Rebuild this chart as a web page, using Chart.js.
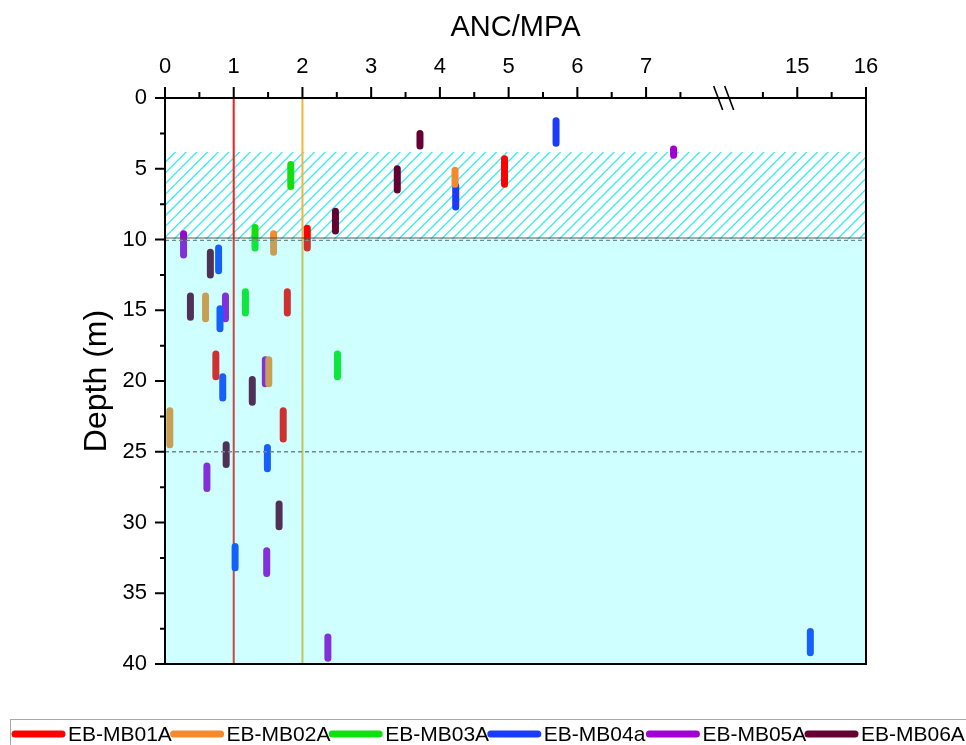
<!DOCTYPE html>
<html>
<head>
<meta charset="utf-8">
<title>ANC/MPA vs depth</title>
<script src="https://cdn.jsdelivr.net/npm/chart.js@4.4.0/dist/chart.umd.min.js"></script>
<style>
  html, body { margin: 0; padding: 0; background: #fff; }
</style>
</head>
<body>
<canvas id="ancChart" width="966" height="745"></canvas>
<script>
// wells and their colours
const wells = ['EB-MB01A', 'EB-MB02A', 'EB-MB03A', 'EB-MB04a', 'EB-MB05A', 'EB-MB06A'];
const wellColors = ['#ff0000', '#f5892d', '#10e010', '#1a3cfa', '#a000d2', '#640032'];

// samples per well: [ANC/MPA, top depth (m), bottom depth (m)]
const mb01 = [[4.94, 4.3, 6.1], [2.07, 9.2, 10.6], [1.78, 13.7, 15.2], [0.74, 18.1, 19.7], [1.72, 22.1, 24.1]];
const mb02 = [[4.22, 5.1, 6.1], [1.58, 9.6, 10.9], [0.59, 14.0, 15.6], [1.51, 18.5, 20.2], [0.07, 22.1, 24.5]];
const mb03 = [[1.83, 4.7, 6.25], [1.31, 9.15, 10.6], [1.17, 13.7, 15.2], [2.51, 18.1, 19.7]];
const mb04 = [[5.69, 1.6, 3.2], [4.23, 6.2, 7.7], [0.78, 10.6, 12.2], [0.80, 14.9, 16.3], [0.84, 19.7, 21.2],
              [1.49, 24.7, 26.2], [1.02, 31.7, 33.2], [15.19, 37.7, 39.2]];
const mb05 = [[7.40, 3.6, 4.05], [0.27, 9.6, 11.1], [0.88, 14.0, 15.6], [1.46, 18.5, 20.2], [0.61, 26.0, 27.6],
              [1.48, 32.0, 33.6], [2.37, 38.1, 39.6]];
const mb06 = [[3.71, 2.5, 3.4], [3.38, 5.0, 6.5], [2.48, 8.0, 9.4], [0.66, 10.9, 12.5], [0.37, 14.0, 15.5],
              [1.27, 19.9, 21.5], [0.89, 24.5, 25.9], [1.66, 28.7, 30.3]];
const wellSamples = [mb01, mb02, mb03, mb04, mb05, mb06];

// axis ticks
const xTicks = [0, 1, 2, 3, 4, 5, 6, 7, 15, 16];
const xMinorTicks = [0.5, 1.5, 2.5, 3.5, 4.5, 5.5, 6.5, 7.5, 14.5, 15.5];
const yTicks = [0, 5, 10, 15, 20, 25, 30, 35, 40];

// reference lines (ANC/MPA = 1 and 2) and depth zones
const refLines = [1, 2];
const refColors = ['#ff1a1a', '#f4b43a'];
const hatchZone = [3.8, 10];
const shadedZone = [10, 40];
const dashedDepths = [10, 25];

// broken x axis: values above the break are shifted left
const BREAK_AT = 8.1, BREAK_SHIFT = 5.8;
const tx = v => (v > BREAK_AT ? v - BREAK_SHIFT : v);

const datasets = wells.map((name, i) => {
    const pts = [];
    wellSamples[i].forEach(([r, top, bot]) => {
        pts.push({ x: tx(r), y: top }, { x: tx(r), y: bot }, { x: null, y: null });
    });
    return {
        label: name,
        data: pts,
        showLine: true,
        spanGaps: false,
        borderColor: wellColors[i],
        backgroundColor: wellColors[i],
        borderWidth: 7,
        borderCapStyle: 'round',
        pointRadius: 0,
        pointHoverRadius: 0
    };
});

const FONT = "'Liberation Sans', Arial, sans-serif";
Chart.defaults.font.family = FONT;
Chart.defaults.color = '#000';

const decor = {
    id: 'decor',
    beforeDatasetsDraw(chart) {
        const { ctx, chartArea: a, scales: { x, y } } = chart;
        // hatched zone
        const yt = y.getPixelForValue(hatchZone[0]), yb = y.getPixelForValue(hatchZone[1]);
        ctx.save();
        ctx.beginPath();
        ctx.rect(a.left, yt, a.right - a.left, yb - yt);
        ctx.clip();
        ctx.strokeStyle = '#38eef2';
        ctx.lineWidth = 1.3;
        const h = yb - yt;
        ctx.beginPath();
        for (let d = -h; d < a.right - a.left + h; d += 10.7) {
            ctx.moveTo(a.left + d, yb);
            ctx.lineTo(a.left + d + h, yt);
        }
        ctx.stroke();
        ctx.restore();
        // ANC/MPA reference lines
        ctx.save();
        refLines.forEach((v, i) => {
            const px = x.getPixelForValue(tx(v));
            ctx.strokeStyle = refColors[i];
            ctx.lineWidth = 2;
            ctx.beginPath();
            ctx.moveTo(px, a.top);
            ctx.lineTo(px, a.bottom);
            ctx.stroke();
        });
        ctx.restore();
    },
    afterDatasetsDraw(chart) {
        const { ctx, chartArea: a, scales: { x, y } } = chart;
        ctx.save();
        // shaded zone below 10 m (semi transparent over the marks)
        const s0 = y.getPixelForValue(shadedZone[0]), s1 = y.getPixelForValue(shadedZone[1]);
        ctx.fillStyle = 'rgba(0,255,255,0.19)';
        ctx.fillRect(a.left, s0, a.right - a.left, s1 - s0);

        // hatch zone lower boundary
        ctx.strokeStyle = '#4a5555';
        ctx.lineWidth = 1;
        ctx.beginPath();
        ctx.moveTo(a.left, y.getPixelForValue(hatchZone[1]) - 1.5);
        ctx.lineTo(a.right, y.getPixelForValue(hatchZone[1]) - 1.5);
        ctx.stroke();

        // dashed depth lines
        ctx.strokeStyle = '#6f8c8c';
        ctx.lineWidth = 1.3;
        ctx.setLineDash([4, 3]);
        dashedDepths.forEach(d => {
            const py = y.getPixelForValue(d) + (d === hatchZone[1] ? 0.8 : 0);
            ctx.beginPath();
            ctx.moveTo(a.left, py);
            ctx.lineTo(a.right, py);
            ctx.stroke();
        });
        ctx.setLineDash([]);

        // frame
        ctx.strokeStyle = '#000';
        ctx.lineWidth = 2;
        ctx.strokeRect(a.left, a.top, a.right - a.left, a.bottom - a.top);

        // x ticks (top, outward)
        ctx.beginPath();
        xTicks.forEach(v => {
            const px = x.getPixelForValue(tx(v));
            ctx.moveTo(px, a.top); ctx.lineTo(px, a.top - 11);
        });
        xMinorTicks.forEach(v => {
            const px = x.getPixelForValue(tx(v));
            ctx.moveTo(px, a.top); ctx.lineTo(px, a.top - 6);
        });
        // y ticks (left, outward)
        yTicks.forEach(v => {
            const py = y.getPixelForValue(v);
            ctx.moveTo(a.left, py); ctx.lineTo(a.left - 10, py);
        });
        yTicks.slice(0, -1).forEach(v => {
            const py = y.getPixelForValue(v + 2.5);
            ctx.moveTo(a.left, py); ctx.lineTo(a.left - 5, py);
        });
        ctx.stroke();

        // axis break marks
        const bx = x.getPixelForValue(BREAK_AT);
        ctx.lineWidth = 1.6;
        ctx.beginPath();
        ctx.moveTo(bx - 8, a.top - 12); ctx.lineTo(bx + 1, a.top + 12);
        ctx.moveTo(bx + 3, a.top - 12); ctx.lineTo(bx + 12, a.top + 12);
        ctx.stroke();
        ctx.restore();
    },
    afterDraw(chart) {
        const { ctx } = chart;
        ctx.save();
        // legend box
        ctx.strokeStyle = '#a8a8a8';
        ctx.lineWidth = 1;
        ctx.strokeRect(10.5, 719.5, 980, 40);
        ctx.font = '21px ' + FONT;
        ctx.textBaseline = 'middle';
        ctx.fillStyle = '#000';
        const ly = 734;
        wells.forEach((name, i) => {
            const x0 = 12 + i * 158.6;
            ctx.strokeStyle = wellColors[i];
            ctx.lineWidth = 7;
            ctx.lineCap = 'round';
            ctx.beginPath();
            ctx.moveTo(x0 + 3, ly);
            ctx.lineTo(x0 + 50, ly);
            ctx.stroke();
            ctx.fillText(name, x0 + 56, ly + 1);
        });
        ctx.restore();
    }
};

new Chart(document.getElementById('ancChart'), {
    type: 'scatter',
    data: { datasets },
    options: {
        responsive: false,
        animation: false,
        events: [],
        layout: { padding: { top: 0, left: 0, right: 100, bottom: 81 } },
        plugins: { legend: { display: false }, tooltip: { enabled: false } },
        scales: {
            x: {
                type: 'linear',
                position: 'top',
                min: 0,
                max: tx(16),
                afterBuildTicks: s => { s.ticks = xTicks.map(v => ({ value: tx(v) })); },
                afterFit: s => { s.height = 98; },
                ticks: {
                    autoSkip: false,
                    maxRotation: 0,
                    padding: 18,
                    font: { size: 22 },
                    color: '#000',
                    callback: (v, i) => String(xTicks[i])
                },
                grid: { display: false, drawTicks: false },
                border: { display: false },
                title: { display: true, text: 'ANC/MPA', font: { size: 29 }, color: '#000', padding: { top: 11, bottom: 0 } }
            },
            y: {
                type: 'linear',
                reverse: true,
                min: 0,
                max: 40,
                afterBuildTicks: s => { s.ticks = yTicks.map(v => ({ value: v })); },
                afterFit: s => { s.width = 165; },
                ticks: { padding: 18, font: { size: 22 }, color: '#000' },
                grid: { display: false, drawTicks: false },
                border: { display: false },
                title: { display: true, text: 'Depth (m)', font: { size: 32 }, color: '#000', padding: { top: 78, bottom: 0 } }
            }
        }
    },
    plugins: [decor]
});
</script>
</body>
</html>
